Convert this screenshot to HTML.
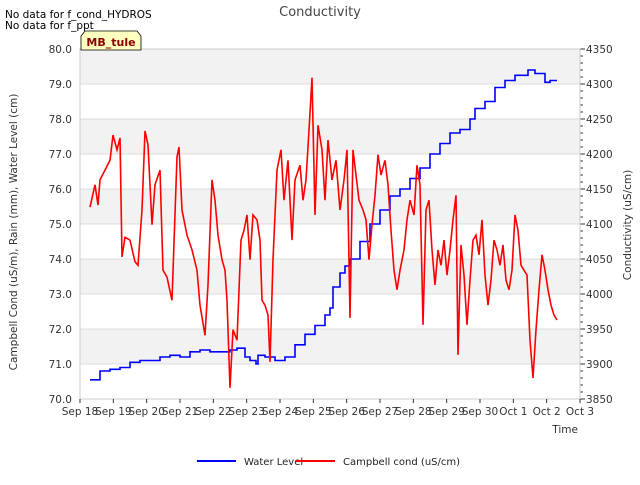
<!DOCTYPE html>
<html><head><meta charset="utf-8"><style>
body{margin:0;background:#fff;font-family:"Liberation Sans","DejaVu Sans",sans-serif}
svg text{font-family:"DejaVu Sans","Liberation Sans",sans-serif}
</style></head><body>
<svg id="chart" width="640" height="480" xmlns="http://www.w3.org/2000/svg">
<rect width="640" height="480" fill="#fff"/>
<g id="bands"></g><g id="grid"></g><g id="axes"></g><g id="series"></g>
<text x="320" y="16" font-size="13" fill="#444" text-anchor="middle">Conductivity</text>
<text x="5" y="18" font-size="10.5" fill="#000">No data for f_cond_HYDROS</text>
<text x="5" y="29" font-size="10.5" fill="#000">No data for f_ppt</text>
<g>
<path d="M81,50 L81,36 L85,31 L137,31 L141,36 L141,50 Z" fill="#ffffc0" stroke="#000" stroke-width="0.8"/>
<text x="111" y="46" font-size="11" font-weight="bold" fill="#8b0000" text-anchor="middle">MB_tule</text>
</g>
<text x="578" y="433" font-size="10.5" fill="#333" text-anchor="end">Time</text>
<text transform="translate(17,232) rotate(-90)" font-size="10.5" fill="#333" text-anchor="middle">Campbell Cond (uS/m), Rain (mm), Water Level (cm)</text>
<text transform="translate(631,225) rotate(-90)" font-size="10.5" fill="#333" text-anchor="middle">Conductivity (uS/cm)</text>
<g>
<g><line x1="197" y1="461" x2="236" y2="461" stroke="#0000ff" stroke-width="2"/><text x="244" y="465" font-size="10" fill="#222">Water Level</text></g>
<g><line x1="296" y1="461" x2="335" y2="461" stroke="#ff0000" stroke-width="2"/><text x="343" y="465" font-size="10" fill="#222">Campbell cond (uS/cm)</text></g>
</g>
</svg>
<script>
const xTickLabels=["Sep 18","Sep 19","Sep 20","Sep 21","Sep 22","Sep 23","Sep 24","Sep 25","Sep 26","Sep 27","Sep 28","Sep 29","Sep 30","Oct 1","Oct 2","Oct 3"];
const leftTicks=[70,71,72,73,74,75,76,77,78,79,80];
const rightTicks=[3850,3900,3950,4000,4050,4100,4150,4200,4250,4300,4350];
const wlDays=[0.30,0.60,0.90,1.2,1.5,1.8,2.1,2.4,2.7,3.0,3.3,3.6,3.9,4.2,4.5,4.71,4.95,5.1,5.28,5.34,5.55,5.85,6.15,6.45,6.75,7.05,7.35,7.5,7.59,7.8,7.95,8.1,8.4,8.7,9.0,9.3,9.6,9.9,10.2,10.5,10.8,11.1,11.4,11.7,11.85,12.15,12.45,12.75,13.05,13.44,13.65,13.95,14.1,14.31];
const wlValues=[70.55,70.8,70.85,70.9,71.05,71.1,71.1,71.2,71.25,71.2,71.35,71.4,71.35,71.35,71.4,71.45,71.2,71.1,71.0,71.25,71.2,71.1,71.2,71.55,71.85,72.1,72.4,72.6,73.2,73.6,73.8,74.0,74.5,75.0,75.4,75.8,76.0,76.3,76.6,77.0,77.3,77.6,77.7,78.0,78.3,78.5,78.9,79.1,79.25,79.4,79.3,79.05,79.1,79.1];
const condDays=[0.30,0.45,0.54,0.60,0.75,0.90,0.99,1.11,1.20,1.26,1.35,1.50,1.65,1.74,1.86,1.95,2.04,2.16,2.25,2.40,2.49,2.61,2.76,2.91,2.97,3.06,3.21,3.36,3.51,3.60,3.75,3.84,3.96,4.05,4.14,4.26,4.35,4.41,4.50,4.59,4.71,4.83,4.92,5.01,5.10,5.19,5.31,5.40,5.46,5.55,5.64,5.70,5.79,5.91,6.03,6.12,6.24,6.36,6.45,6.60,6.69,6.78,6.87,6.96,7.05,7.14,7.26,7.35,7.44,7.56,7.68,7.80,7.92,8.01,8.10,8.19,8.28,8.37,8.49,8.58,8.67,8.76,8.85,8.94,9.03,9.15,9.24,9.33,9.42,9.51,9.60,9.72,9.81,9.90,10.02,10.11,10.20,10.29,10.38,10.47,10.56,10.65,10.74,10.83,10.92,11.01,11.10,11.19,11.28,11.34,11.43,11.52,11.61,11.70,11.79,11.88,11.97,12.06,12.15,12.24,12.33,12.42,12.51,12.60,12.69,12.78,12.87,12.96,13.05,13.14,13.23,13.32,13.41,13.50,13.59,13.68,13.77,13.86,13.95,14.04,14.13,14.22,14.31];
const condValues=[4124,4156,4127,4163,4177,4191,4227,4206,4223,4053,4081,4077,4046,4041,4120,4233,4213,4099,4156,4177,4034,4024,3991,4196,4210,4120,4084,4063,4034,3984,3941,4013,4163,4134,4084,4049,4034,3991,3866,3949,3934,4077,4091,4113,4049,4113,4106,4077,3991,3984,3970,3903,4049,4177,4206,4134,4191,4077,4163,4184,4134,4163,4234,4309,4113,4241,4206,4134,4220,4163,4191,4120,4163,4206,3966,4206,4170,4134,4120,4106,4049,4099,4141,4199,4170,4191,4156,4091,4034,4006,4034,4063,4106,4134,4113,4184,4156,3956,4120,4134,4063,4013,4063,4041,4077,4027,4063,4106,4141,3913,4070,4027,3956,4020,4077,4084,4056,4106,4027,3984,4020,4077,4063,4041,4070,4020,4006,4034,4113,4091,4041,4034,4027,3934,3880,3949,4006,4056,4034,4006,3984,3970,3963];

const L=80,R=580,T=49,B=399,NS='http://www.w3.org/2000/svg';
const xS=d=>L+(R-L)*d/(xTickLabels.length-1);
const yL=v=>B-(v-70)/10*(B-T);
const yR=v=>B-(v-3850)/500*(B-T);
function mk(tag,attrs,parent){const e=document.createElementNS(NS,tag);for(const k in attrs)e.setAttribute(k,attrs[k]);document.getElementById(parent).appendChild(e);return e;}
for(let v=71;v<80;v+=2){const b=mk('rect',{x:L,y:yL(v+1),width:R-L,height:yL(v)-yL(v+1),fill:'#f2f2f2'},'bands');

}
leftTicks.forEach(v=>{const g=mk('line',{x1:L,x2:R,y1:yL(v),y2:yL(v),stroke:'#dcdcdc','stroke-width':1},'grid');


const t=mk('text',{x:L-8,y:yL(v)+4,'font-size':10.5,fill:'#333','text-anchor':'end'},'axes');t.textContent=v.toFixed(1);

});
rightTicks.forEach(v=>{const t=mk('text',{x:R+6,y:yR(v)+4,'font-size':10.5,fill:'#333'},'axes');t.textContent=v;


mk('line',{x1:R,x2:R+5,y1:yR(v),y2:yR(v),stroke:'#333'},'axes');});
for(let v=3860;v<4350;v+=10){if(v%50)mk('line',{x1:R,x2:R+3,y1:yR(v),y2:yR(v),stroke:'#333'},'axes');}
mk('rect',{x:L,y:T,width:R-L,height:B-T,fill:'none',stroke:'#ccc'},'axes');
xTickLabels.forEach((s,i)=>{const t=mk('text',{x:xS(i),y:415,'font-size':10.5,fill:'#333','text-anchor':'middle'},'axes');t.textContent=s;


mk('line',{x1:xS(i),x2:xS(i),y1:B,y2:B+4,stroke:'#333'},'axes');});
let pb='';
wlDays.forEach((d,i)=>{
  const px=xS(d).toFixed(1), py=yL(wlValues[i]).toFixed(1);
  pb+= i ? (' H'+px+' V'+py) : ('M'+px+','+py);
});
const wl=mk('path',{d:pb,fill:'none',stroke:'#0000ff','stroke-width':1.6},'series');


const pr=condDays.map((d,i)=>(i?'L':'M')+xS(d).toFixed(1)+','+yR(condValues[i]).toFixed(1)).join(' ');
const cl=mk('path',{d:pr,fill:'none',stroke:'#ff0000','stroke-width':1.6},'series');


</script>
</body></html>
